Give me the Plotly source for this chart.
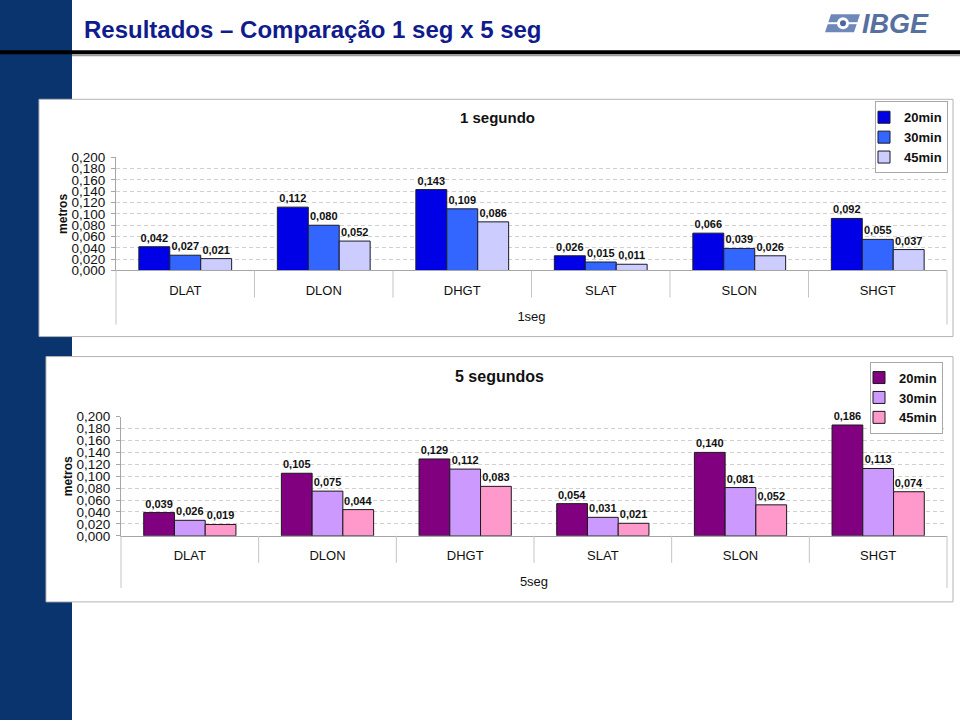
import plotly.graph_objects as go

# ---------------- data ----------------
categories = ["DLAT", "DLON", "DHGT", "SLAT", "SLON", "SHGT"]
series_names = ["20min", "30min", "45min"]

seg1_20min = [0.042, 0.112, 0.143, 0.026, 0.066, 0.092]
seg1_30min = [0.027, 0.080, 0.109, 0.015, 0.039, 0.055]
seg1_45min = [0.021, 0.052, 0.086, 0.011, 0.026, 0.037]

seg5_20min = [0.039, 0.105, 0.129, 0.054, 0.140, 0.186]
seg5_30min = [0.026, 0.075, 0.112, 0.031, 0.081, 0.113]
seg5_45min = [0.019, 0.044, 0.083, 0.021, 0.052, 0.074]

y_tick_vals = [0.000, 0.020, 0.040, 0.060, 0.080, 0.100, 0.120, 0.140, 0.160, 0.180, 0.200]
y_tick_text = ["0,000", "0,020", "0,040", "0,060", "0,080", "0,100",
               "0,120", "0,140", "0,160", "0,180", "0,200"]
grid_vals = y_tick_vals[1:-1]

top_colors = ["#0000E6", "#3366FF", "#CCCCFF"]
bottom_colors = ["#800080", "#CC99FF", "#FF99CC"]

FONT = "Liberation Sans, Arial, sans-serif"
W, H = 960, 720
# observed photo mapping of page rows: shown_y = 0.978 * (page_y + 8)
SY, OY = 0.978, 8


def px(x):
    return x / W


def py(y):
    return 1 - (y / SY - OY) / H


fig = go.Figure()

for name, vals, color in zip(series_names, [seg1_20min, seg1_30min, seg1_45min], top_colors):
    fig.add_trace(go.Bar(
        x=categories, y=vals, name=name, xaxis="x", yaxis="y", legend="legend",
        marker=dict(color=color, line=dict(color="#1A1A2A", width=1)),
        texttemplate="%{y:.3f}", textposition="outside", constraintext="none",
        textfont=dict(family=FONT, size=11, color="#111111", weight="bold"),
        cliponaxis=False,
    ))

for name, vals, color in zip(series_names, [seg5_20min, seg5_30min, seg5_45min], bottom_colors):
    fig.add_trace(go.Bar(
        x=categories, y=vals, name=name, xaxis="x2", yaxis="y2", legend="legend2",
        marker=dict(color=color, line=dict(color="#1A1A1A", width=1)),
        texttemplate="%{y:.3f}", textposition="outside", constraintext="none",
        textfont=dict(family=FONT, size=11, color="#111111", weight="bold"),
        cliponaxis=False,
    ))

# plot-area geometry (pixels in the reference picture)
top_x = (116, 947)
top_y = (158, 271)
bot_x = (121, 947)
bot_y = (417, 536)

AXIS_GRAY = "#A6A6A6"


def xaxis_cfg(xr, yanchor, title):
    return dict(
        domain=[px(xr[0]), px(xr[1])], anchor=yanchor, type="category",
        showline=True, linecolor=AXIS_GRAY, linewidth=1, showgrid=False,
        ticks="outside", ticklen=8, tickcolor="rgba(0,0,0,0)",
        tickfont=dict(family=FONT, size=13, color="#111111"),
        title=dict(text=title, font=dict(family=FONT, size=13, color="#111111"), standoff=14),
        fixedrange=True,
    )


def yaxis_cfg(yr, xanchor):
    return dict(
        domain=[py(yr[1]), py(yr[0])], anchor=xanchor, range=[0, 0.2],
        tickmode="array", tickvals=y_tick_vals, ticktext=y_tick_text,
        ticks="outside", ticklen=4, tickcolor=AXIS_GRAY, ticklabelstandoff=3,
        tickfont=dict(family=FONT, size=13.5, color="#111111"),
        showline=True, linecolor=AXIS_GRAY, linewidth=1,
        showgrid=False, zeroline=False,
        minor=dict(tickvals=grid_vals, showgrid=True, gridcolor="#D0D0D0",
                   griddash="4px,3px", gridwidth=1, ticks=""),
        title=dict(text="<b>metros</b>", font=dict(family=FONT, size=12, color="#111111"), standoff=1),
        fixedrange=True,
    )


shapes = [
    # left sidebar
    dict(type="rect", xref="paper", yref="paper", x0=0, x1=px(72), y0=-0.05, y1=1.05,
         fillcolor="#0A346E", line=dict(width=0), layer="below"),
    # header rule
    dict(type="rect", xref="paper", yref="paper", x0=0, x1=1, y0=py(55), y1=py(51),
         fillcolor="#000000", line=dict(width=0), layer="below"),
    dict(type="rect", xref="paper", yref="paper", x0=px(72), x1=1, y0=py(57), y1=py(55),
         fillcolor="#9A9A9A", line=dict(width=0), layer="below"),
    # chart boxes
    dict(type="rect", xref="paper", yref="paper", x0=px(39), x1=px(953), y0=py(337), y1=py(100),
         fillcolor="white", line=dict(color="#B4B4B4", width=1), layer="below"),
    dict(type="rect", xref="paper", yref="paper", x0=px(46), x1=px(953), y0=py(602), y1=py(357),
         fillcolor="white", line=dict(color="#B4B4B4", width=1), layer="below"),
    # IBGE logo icon
    dict(type="path", xref="paper", yref="paper",
         path=f"M {px(825)},{py(33)} L {px(831)},{py(15)} L {px(860)},{py(15)} L {px(854)},{py(33)} Z",
         fillcolor="#6F88BA", line=dict(width=0), layer="below"),
    dict(type="path", xref="paper", yref="paper",
         path=f"M {px(827)},{py(24)} L {px(857)},{py(24)}",
         line=dict(color="white", width=2), layer="below"),
    dict(type="circle", xref="paper", yref="paper", x0=px(837), x1=px(849), y0=py(30), y1=py(18),
         fillcolor="white", line=dict(width=0), layer="below"),
    dict(type="circle", xref="paper", yref="paper", x0=px(840), x1=px(846), y0=py(27), y1=py(21),
         fillcolor="#4A65A0", line=dict(width=0), layer="below"),
]

# multi-level category axis dividers
n = len(categories)
for xref, base, inner_end, outer_end in [("x domain", top_y[1], 298, 325),
                                         ("x2 domain", bot_y[1], 563, 588)]:
    for i in range(n + 1):
        end = outer_end if i in (0, n) else inner_end
        shapes.append(dict(type="line", xref=xref, yref="paper", x0=i / n, x1=i / n,
                           y0=py(base), y1=py(end), line=dict(color="#C4C4C4", width=1)))

annotations = [
    dict(text="<b>Resultados – Comparação 1 seg x 5 seg</b>", xref="paper", yref="paper",
         x=px(82), y=py(30), xanchor="left", yanchor="middle", showarrow=False,
         font=dict(family=FONT, size=24, color="#101C8C")),
    dict(text="<b><i>IBGE</i></b>", xref="paper", yref="paper",
         x=px(860), y=py(25), xanchor="left", yanchor="middle", showarrow=False,
         font=dict(family=FONT, size=27, color="#56709F")),
    dict(text="<b>1 segundo</b>", xref="paper", yref="paper",
         x=px(497), y=py(118), xanchor="center", yanchor="middle", showarrow=False,
         font=dict(family=FONT, size=15, color="#111111")),
    dict(text="<b>5 segundos</b>", xref="paper", yref="paper",
         x=px(499), y=py(377), xanchor="center", yanchor="middle", showarrow=False,
         font=dict(family=FONT, size=16, color="#111111")),
]

legend_common = dict(bgcolor="white", bordercolor="#A8A8A8", borderwidth=1,
                     font=dict(family=FONT, size=13, color="#111111", weight="bold"),
                     xanchor="right", yanchor="top", tracegroupgap=0, itemclick=False,
                     indentation=-12)

fig.update_layout(
    width=W, height=H, margin=dict(l=0, r=0, t=0, b=0),
    paper_bgcolor="white", plot_bgcolor="rgba(0,0,0,0)",
    barmode="group", bargap=0.33, bargroupgap=0,
    separators=", ",
    font=dict(family=FONT, color="#111111"),
    xaxis=xaxis_cfg(top_x, "y", "1seg"),
    yaxis=yaxis_cfg(top_y, "x"),
    xaxis2=xaxis_cfg(bot_x, "y2", "5seg"),
    yaxis2=yaxis_cfg(bot_y, "x2"),
    legend=dict(x=px(948), y=py(102), **legend_common),
    legend2=dict(x=px(943), y=py(362), **legend_common),
    shapes=shapes,
    annotations=annotations,
    showlegend=True,
)

# place the figure at the very top-left of the page (no default body margin)
page_fix = (
    "document.documentElement.style.margin='0';"
    "document.documentElement.style.overflow='hidden';"
    "document.body.style.margin='0';"
    "document.body.style.padding='0';"
    "document.body.style.overflow='hidden';"
    "var g=document.getElementById('{plot_id}');"
    "g.style.position='absolute';g.style.left='0px';g.style.top='0px';"
)

fig.write_html("out.html", post_script=page_fix, config={"displayModeBar": False})
